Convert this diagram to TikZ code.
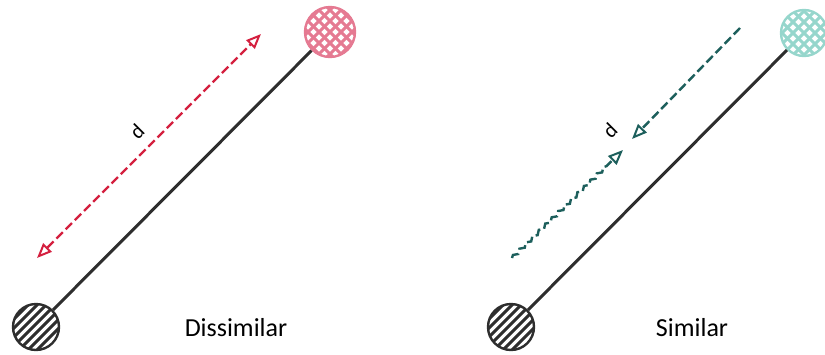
\documentclass[tikz,border=0pt]{standalone}
\usepackage{fontspec}
\setmainfont{Carlito}
\usetikzlibrary{arrows.meta,decorations.pathmorphing}
\definecolor{inkblack}{HTML}{2E2E2E}
\definecolor{rosefill}{HTML}{E57A92}
\definecolor{crimson}{HTML}{D4203F}
\definecolor{mintfill}{HTML}{96D6CC}
\definecolor{deepteal}{HTML}{1D5F5C}

\tikzset{
  >={Triangle[open, length=15pt, width=12pt, line width=2pt]},
  ball/.style={circle, minimum size=#1, inner sep=0pt},
  hatched/.style={ball=46pt, draw=inkblack, line width=2.4pt,
    path picture={\foreach \k in {-30,-21,...,30}
      \draw[inkblack, line width=3pt] ([xshift=\k pt]path picture bounding box.center) ++(-30pt,-30pt) -- ++(60pt,60pt);}},
  crossed/.style={ball=50pt, draw=#1, line width=2.4pt,
    path picture={\foreach \k in {-33,-22,...,33} {
      \draw[#1, line width=3pt] ([xshift=\k pt]path picture bounding box.center) ++(-30pt,-30pt) -- ++(60pt,60pt);
      \draw[#1, line width=3pt] ([xshift=\k pt]path picture bounding box.center) ++(-30pt,30pt) -- ++(60pt,-60pt);}}},
  rod/.style={inkblack, line width=3pt},
  gap/.style={line width=2.4pt, dash pattern=on 9pt off 4pt},
  caption/.style={font=\fontsize{26}{30}\selectfont},
  dlabel/.style={font=\fontsize{21}{24}\selectfont, rotate=45, inner sep=0pt}
}

\begin{document}
\begin{tikzpicture}[x=1pt, y=-1pt]
    \useasboundingbox (0,0) rectangle (825,354);

    \node[hatched] (A) at (36,327) {};
    \node[crossed=rosefill] (B) at (330,32) {};
    \node[hatched] (C) at (511,327) {};
    \node[crossed=mintfill, ball=46pt] (D) at (804,33) {};

    \draw[rod] (A) -- (B);
    \draw[rod] (C) -- (D);

    \coordinate (p1) at (37,258);
    \coordinate (p2) at (261,34);
    \draw[crimson, gap, <->] (p1) -- (p2);
    \node[dlabel] (dA) at (137,131) {d};

    \coordinate (q1) at (512,258);
    \coordinate (q2) at (623,150);
    \coordinate (q3) at (740,28);
    \coordinate (q4) at (632,139);
    \draw[deepteal, gap, ->, decorate, decoration={snake, amplitude=1.5pt, segment length=9pt, post length=20pt}] (q1) -- (q2);
    \draw[deepteal, gap, ->] (q3) -- (q4);
    \node[dlabel] (dC) at (610,130) {d};

    \node[caption] (capA) at (236,328) {Dissimilar};
    \node[caption] (capC) at (692,328) {Similar};
\end{tikzpicture}
\end{document}
